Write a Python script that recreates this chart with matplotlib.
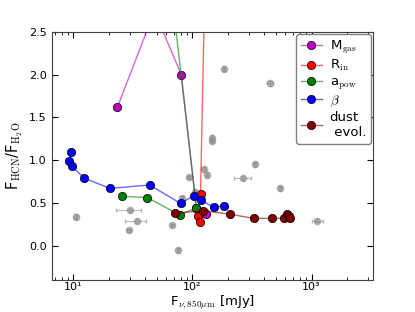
import matplotlib
matplotlib.use("Agg")
import matplotlib.pyplot as plt
import matplotlib.ticker as ticker
import numpy as np

plt.rcParams['mathtext.fontset'] = 'cm'
plt.rcParams['font.family'] = 'DejaVu Sans'

# observed sources (grey)
obs_x = [10.5, 30, 34, 29.5, 68, 76, 82, 93, 106, 124, 133, 147, 145, 184, 451, 336, 265, 547, 1120]
obs_y = [0.34, 0.415, 0.29, 0.18, 0.24, -0.055, 0.56, 0.80, 0.63, 0.895, 0.83, 1.26, 1.23, 2.07, 1.90, 0.95, 0.79, 0.67, 0.295]
obs_xerr = [0.3, 7, 7, 1, 2, 1.5, 2, 2, 2, 3, 3, 3, 3, 4, 25, 8, 43, 10, 120]
obs_yerr = [0.03, 0.02, 0.02, 0.02, 0.02, 0.03, 0.02, 0.02, 0.02, 0.03, 0.03, 0.03, 0.03, 0.03, 0.03, 0.03, 0.02, 0.03, 0.02]

# model sequences
mgas_x = [23.5, 48, 80.7, 108, 125, 129]
mgas_y = [1.62, 2.74, 2.0, 0.445, 0.40, 0.37]

rin_x = [136, 117, 111, 115]
rin_y = [5.0, 0.60, 0.35, 0.28]

apow_x = [25.9, 42, 78.2, 108, 55]
apow_y = [0.578, 0.562, 0.36, 0.445, 4.0]

beta_x = [9.6, 9.2, 9.7, 12.4, 20.3, 43.8, 79.6, 103, 117, 151, 184]
beta_y = [1.09, 0.99, 0.93, 0.79, 0.67, 0.71, 0.495, 0.585, 0.535, 0.45, 0.465]

dust_x = [71, 122, 205, 327, 467, 591, 628, 650, 661]
dust_y = [0.38, 0.41, 0.37, 0.32, 0.32, 0.32, 0.375, 0.35, 0.33]

series = [
    (mgas_x, mgas_y, (0.75, 0.0, 0.75), r'M$_{\rm gas}$'),
    (rin_x, rin_y, (1.0, 0.0, 0.0), r'R$_{\rm in}$'),
    (apow_x, apow_y, (0.0, 0.5, 0.0), r'a$_{\rm pow}$'),
    (beta_x, beta_y, (0.0, 0.0, 1.0), r'$\beta$'),
    (dust_x, dust_y, (0.5, 0.0, 0.0), 'dust\n evol.'),
]

sup = {1: '\u00b9', 2: '\u00b2', 3: '\u00b3'}

fig = plt.figure(figsize=(4.15, 3.12), dpi=100)
ax = fig.add_axes([0.1246, 0.1026, 0.775, 0.7954])

ax.errorbar(obs_x, obs_y, xerr=obs_xerr, yerr=obs_yerr, fmt='o', color='0.55',
            ms=4.5, mec='0.55', alpha=0.6, elinewidth=0.8, capsize=1.5, zorder=1)

for xs, ys, c, lab in series:
    ax.plot(xs, ys, '-o', color=c + (0.6,), mfc=c, mec='k', mew=0.5, ms=6,
            lw=1, label=lab, zorder=2)

ax.set_xscale('log')
ax.set_xlim(6.6, 3300)
ax.set_ylim(-0.4, 2.5)
ax.yaxis.set_major_locator(ticker.MultipleLocator(0.5))
ax.xaxis.set_major_formatter(ticker.FuncFormatter(
    lambda v, p: '10' + sup.get(int(round(np.log10(v))), '')))
ax.tick_params(which='both', direction='in', top=True, right=True, labelsize=8)
ax.tick_params(which='major', length=4)
ax.tick_params(axis='x', which='major', pad=1.5, labelsize=8)
ax.tick_params(which='minor', length=2)
for s in ax.spines.values():
    s.set_color('0.25')

ax.set_xlabel(r'F$_{\nu,850\mu{\rm m}}$ [mJy]', fontsize=9.5, va='bottom')
ax.xaxis.set_label_coords(0.5, -0.128)
ax.set_ylabel(r'F$_{\rm HCN}$/F$_{\rm H_2O}$', fontsize=10.5, labelpad=3)

ax.legend(loc='upper right', numpoints=1, fontsize=9.5, handlelength=1.6,
          handletextpad=0.6, borderaxespad=0.2, borderpad=0.35,
          labelspacing=0.15, framealpha=1, edgecolor='0.5')

plt.savefig('out.png', dpi=100)
